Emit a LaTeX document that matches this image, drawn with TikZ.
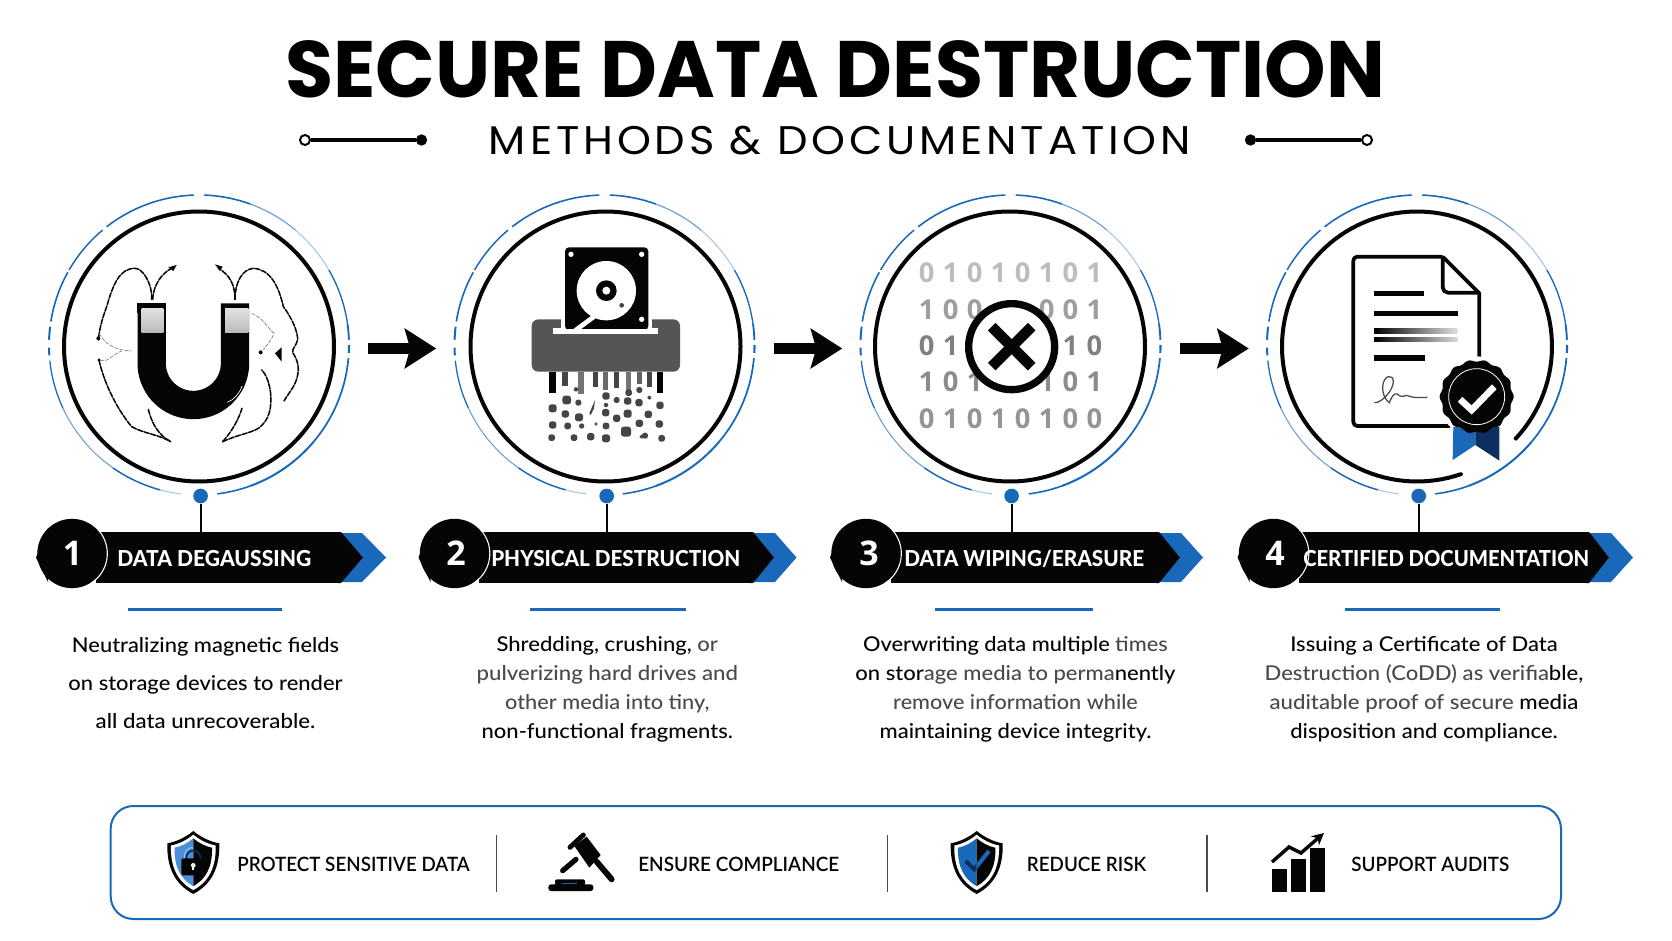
\documentclass[tikz,border=0pt]{standalone}
\usepackage{fontspec}
\usetikzlibrary{calc,arrows.meta}
\setmainfont{Lato Medium}[BoldFont=Lato Bold]
\newfontfamily\titlefont{Poppins Bold}
\newfontfamily\subfont{Poppins}[LetterSpace=9]
\newfontfamily\digitfont{Open Sans}
\newfontfamily\labfont{Lato Heavy}
\newfontfamily\panfont{Lato Semibold}
\newlength\pxu \setlength\pxu{.75pt}
\newcommand\fitw[2]{\resizebox{#1\pxu}{\height}{#2}}
\newcommand\lw[1]{\textcolor{softword}{#1}}
\definecolor{softword}{HTML}{4A4A4A}
\definecolor{accent}{HTML}{1A68BA}
\definecolor{accentlt}{HTML}{4A90D9}
\definecolor{accentdk}{HTML}{0B2F5E}
\definecolor{ringlt}{HTML}{A9C6E8}
\definecolor{ringmd}{HTML}{6EA0D8}
\definecolor{ink}{HTML}{050505}
\definecolor{shred}{HTML}{555555}
\definecolor{frag}{HTML}{454545}
\tikzset{
 innerring/.style={circle,draw=ink,line width=3pt,minimum size=202.5pt,inner sep=0pt},
 anchorring/.style={circle,minimum size=225pt,inner sep=0pt},
 ringdot/.style={circle,fill=accent,minimum size=11pt,inner sep=0pt},
 stemline/.style={draw=ink,line width=1.5pt},
 barbox/.style={fill=ink,minimum height=38.25pt,inner sep=0pt},
 blobnode/.style={circle,fill=ink,minimum size=52pt,inner sep=0pt},
 numtext/.style={text=white,font=\digitfont\bfseries\fontsize{25.5}{26}\selectfont,inner sep=0pt},
 barlabel/.style={text=white,font=\labfont\fontsize{16.5}{18}\selectfont,inner sep=0pt,anchor=west},
 bluebar/.style={draw=accent,line width=2.4pt},
 bodytext/.style={align=center,inner sep=0pt,anchor=base,text=ink},
 bigarrow/.style={draw=ink,line width=8.25pt,-{Stealth[length=23.5pt,width=29.5pt,inset=4pt]}},
 panelbox/.style={draw=accent,line width=1.5pt,rounded corners=17pt,inner sep=0pt},
 paneltext/.style={text=ink,font=\panfont\fontsize{14.8}{16}\selectfont,inner sep=0pt,anchor=west},
 divider/.style={draw=softword,line width=.9pt},
 fulldot/.style={circle,fill=ink,minimum size=8.5pt,inner sep=0pt},
 opendot/.style={circle,draw=ink,fill=white,line width=1.5pt,minimum size=7.5pt,inner sep=0pt},
 ornline/.style={draw=ink,line width=2.3pt},
 fieldline/.style={draw=ink,line width=1.15pt,dash pattern=on 4pt off 1.1pt,line cap=round},
 thinfield/.style={draw=ink!55,line width=.45pt,dash pattern=on 3pt off 1pt},
 digit/.style={font=\digitfont\bfseries\fontsize{20.5}{21}\selectfont,inner sep=0pt},
}
\newcommand\outerring[2]{%
 \foreach \sa/\sb/\sc/\sw in {
  92/128/accent/1.2,130/150/accent/1.1,151/171/accent/1.2,173/178/accent/1.5,181/184/accent/1.5,
  186/205/accent/.95,205/235/ringmd/.8,235/255/accent/1.1,255/263/ringlt/.8,
  277/290/accent/1.2,290/320/accent/1.5,320/355/accent/1.3,357/360/accent/1.6,2/8/accent/1.4,
  8/30/accent/1,30/50/ringlt/.8,50/70/ringmd/.9,70/88/accent/1.2}
 {\draw[draw=\sc,line width=\sw pt] plot[domain=\sa:\sb,samples=24] ({#1+150*cos(\x)},{#2-150*sin(\x)});}}
\def\shieldouter{(0,0) .. controls (-22,18) and (-50,32) .. (-78,37) .. controls (-80,110) and (-55,160) .. (0,189) .. controls (55,160) and (80,110) .. (78,37) .. controls (50,32) and (22,18) .. (0,0) -- cycle}
\def\shieldleft{(0,0) .. controls (-22,18) and (-50,32) .. (-78,37) .. controls (-80,110) and (-55,160) .. (0,189) -- cycle}
\def\shieldright{(0,0) .. controls (22,18) and (50,32) .. (78,37) .. controls (80,110) and (55,160) .. (0,189) -- cycle}
\begin{document}
\begin{tikzpicture}[x=.75pt,y=-.75pt]
\useasboundingbox (0,0) rectangle (1672,941);
\fill[white] (0,0) rectangle (1672,941);
% titles
\node[inner sep=0pt] (title) at (835.3,69.5) {\titlefont\fontsize{60}{64}\selectfont\fitw{1100}{SECURE DATA DESTRUCTION}};
\node[inner sep=0pt] (subtitle) at (840,141) {\subfont\fontsize{30}{32}\selectfont\fitw{702}{METHODS \& DOCUMENTATION}};
\node[opendot] (ol) at (305,140) {};
\node[fulldot] (fl) at (421.5,140) {};
\draw[ornline] (ol) -- (fl);
\node[fulldot] (fr) at (1250.5,140) {};
\node[opendot] (or) at (1367,140) {};
\draw[ornline] (fr) -- (or);
% rings
\node[innerring] (r1) at (199,346.5) {};
\node[innerring] (r2) at (605.5,346.5) {};
\node[innerring] (r3) at (1010,346.5) {};
\node[anchorring,minimum size=202.5pt] (r4) at (1417,346.5) {};
\draw[draw=ink,line width=3pt,line cap=round] plot[domain=-43:289,samples=120] ({1417+135*cos(\x)},{346.5-135*sin(\x)});
\node[anchorring] (o1) at (199,345) {};
\node[anchorring] (o2) at (604.5,345) {};
\node[anchorring] (o3) at (1010.5,345) {};
\node[anchorring] (o4) at (1417,345) {};
\outerring{199}{345}\outerring{604.5}{345}\outerring{1010.5}{345}\outerring{1417}{345}
% arrows
\draw[bigarrow] ($(o1.east)+(19,3.5)$) -- ($(o2.west)+(-18,3.5)$);
\draw[bigarrow] ($(o2.east)+(19,3.5)$) -- ($(o3.west)+(-18,3.5)$);
\draw[bigarrow] ($(o3.east)+(19,3.5)$) -- ($(o4.west)+(-18,3.5)$);
% banners
\foreach \n/\xa/\xb/\xc/\xd/\xe/\xf/\xg/\xh/\xi/\xj/\xk in {
 1/96/341/363/362/386/72/72.5/200.6/117/194/{DATA DEGAUSSING},
 2/479/753/774/775/796.5/454.5/456/606.7/491/249/{PHYSICAL DESTRUCTION},
 3/891/1159/1180/1181/1203/866/869/1011.6/904/240/{DATA WIPING/ERASURE},
 4/1299/1589/1609/1611/1633/1273.5/1275/1418.7/1303/286/{CERTIFIED DOCUMENTATION}}{
 \node[ringdot] (dot\n) at (\xh,496) {};
 \node[barbox,minimum width={(\xb-\xa)*.75pt}] (bar\n) at ({(\xa+\xb)/2},557.5) {};
 \draw[stemline] (dot\n.south) -- (dot\n.south |- bar\n.north);
 \fill[accent] (\xb,533) -- (\xd,533) -- (\xe,557.5) -- (\xd,582) -- (\xb,582) -- (\xc,557.5) -- cycle;
 \fill[ink] ({\xb-3},532) -- (\xb,532) -- (\xc,557.5) -- (\xb,583) -- ({\xb-3},583) -- cycle;
 \fill[ink] ({\xf-36},557.5) -- ({\xf-24},528) -- ({\xf-24},582) -- cycle;
 \node[blobnode,minimum size=52pt] (blob\n) at (\xf,553.5) {};
 \draw[white,line width=.8pt] plot[domain=-58:42,samples=30] ({\xf+35.3*cos(\x)},{553.5-35.3*sin(\x)});
 \node[numtext] (num\n) at (\xg,553) {\n};
 \node[barlabel] (lab\n) at (\xi,558.6) {\fitw{\xj}{\xk}};
}
% blue rules
\draw[bluebar] (127.7,609.3) -- (282,609.3);
\draw[bluebar] (530,609.3) -- (686,609.3);
\draw[bluebar] (935.4,609.3) -- (1093,609.3);
\draw[bluebar] (1344.6,609.3) -- (1499.7,609.3);
% body text
\node[bodytext,font=\fontsize{15.3}{28.5}\selectfont] (txt1) at (205.5,728) {\fitw{267}{Neutralizing magnetic fields}\\\fitw{274}{on storage devices to render}\\\fitw{219.5}{all data unrecoverable.}};
\node[bodytext,font=\fontsize{15.3}{21.75}\selectfont] (txt2) at (607.3,738) {\fitw{221.5}{Shredding, crushing, \lw{or}}\\\fitw{261.4}{\lw{pulverizing hard drives and}}\\\fitw{204.3}{\lw{other media into tiny,}}\\\fitw{251.3}{non-functional fragments.}};
\node[bodytext,font=\fontsize{15.3}{21.75}\selectfont] (txt3) at (1015.5,738) {\fitw{304.6}{Overwriting data multiple \lw{times}}\\\fitw{320.2}{on stor\lw{age media to perma}nently}\\\fitw{244.6}{\lw{remove information while}}\\\fitw{271.7}{maintaining device integrity.}};
\node[bodytext,font=\fontsize{15.3}{21.75}\selectfont] (txt4) at (1424,738) {\fitw{267.4}{Issuing a Certificate of Data}\\\fitw{318.7}{\lw{Destruction (CoDD) as verifia}ble,}\\\fitw{309}{\lw{auditable proof of secure} media}\\\fitw{267.4}{disposition and compliance.}};
% bottom panel
\node[panelbox,minimum width={1450.3*.75pt},minimum height={113*.75pt}] (panel) at (835.85,862.5) {};
\draw[divider] (496.5,835) -- (496.5,892);
\draw[divider] (887.5,835) -- (887.5,892);
\draw[divider] (1207,835) -- (1207,892);
\node[paneltext] (p1) at (237,864) {\fitw{232.4}{PROTECT SENSITIVE DATA}};
\node[paneltext] (p2) at (638,864) {\fitw{201}{ENSURE COMPLIANCE}};
\node[paneltext] (p3) at (1026.7,864) {\fitw{119.3}{REDUCE RISK}};
\node[paneltext] (p4) at (1351,864) {\fitw{158}{SUPPORT AUDITS}};
% magnet
\begin{scope}[shift={(0,170)},x=.25pt,y=-.25pt]
 \draw[ink,line width=21.25pt] (455,400) -- plot[domain=180:0,samples=50] ({580+125*cos(\x)},{580+125*sin(\x)}) -- (705,400);
 \fill[ink] (412,400) rectangle (498,430);
 \shade[top color=white!88!black,bottom color=black!27] (425,416) rectangle (490,488);
 \shade[top color=white!88!black,bottom color=black!27] (675,416) rectangle (745,488);
 \draw[white,line width=.5pt] (682,697) .. controls (700,690) and (718,672) .. (726,648);
 \draw[fieldline] (455,388) .. controls (458,345) and (430,295) .. (405,295) .. controls (360,295) and (340,340) .. (320,410) .. controls (305,450) and (298,480) .. (295,510);
 \draw[fieldline] (458,388) .. controls (460,345) and (485,310) .. (515,295);
 \draw[fieldline] (705,388) .. controls (705,345) and (690,315) .. (655,295);
 \draw[fieldline] (705,388) .. controls (705,340) and (725,298) .. (760,295) .. controls (810,298) and (835,345) .. (850,410) .. controls (865,430) and (890,470) .. (893,505) .. controls (890,530) and (875,535) .. (878,548) .. controls (890,565) and (900,590) .. (892,620) .. controls (885,650) and (865,670) .. (852,693);
 \draw[fieldline] (297,570) .. controls (310,630) and (345,710) .. (395,770) .. controls (430,790) and (480,795) .. (512,815);
 \draw[fieldline] (445,718) .. controls (455,760) and (475,795) .. (512,815);
 \draw[fieldline] (668,815) .. controls (695,785) and (715,750) .. (726,715);
 \draw[fieldline] (668,815) .. controls (710,795) and (750,790) .. (775,775) .. controls (810,750) and (815,710) .. (812,670) .. controls (808,640) and (800,615) .. (785,600);
 \draw[thinfield] (297,490) .. controls (315,520) and (340,540) .. (395,543);
 \draw[thinfield] (300,570) .. controls (320,580) and (335,555) .. (365,543);
 \draw[thinfield] (755,430) .. controls (790,445) and (800,470) .. (822,490) .. controls (815,510) and (800,525) .. (790,540);
 \fill[ink] (505,292) -- (530,285) -- (520,303) -- cycle;
 \fill[ink] (645,283) -- (668,290) -- (660,303) -- cycle;
 \fill[ink] (782,547) circle[radius=6];
 \fill[ink] (825,550) -- (845,532) -- (845,575) -- cycle;
 \fill[ink] (295,505) circle[radius=6];
 \fill[ink] (297,570) circle[radius=5];
\end{scope}
% shredder
\begin{scope}[shift={(440,170)},x=.25pt,y=-.25pt]
 \fill[shred,rounded corners=5pt] (275,448) rectangle (720,605);
 \fill[white] (362,440) rectangle (637,490);
 \fill[white] (340,475) rectangle (655,491);
 \fill[ink,rounded corners=3pt] (375,232) -- (625,232) -- (625,480) -- (375,480) -- cycle;
 \fill[white] (393,253) circle[radius=8];
 \fill[white] (605,253) circle[radius=8];
 \fill[white] (605,448) circle[radius=8];
 \fill[white] (499,362) circle[radius=89];
 \fill[ink] (499,362) circle[radius=31];
 \fill[white] (499,362) circle[radius=12];
 \fill[frag] (545,406) circle[radius=7];
 \draw[white,line width=3.5pt] (405,482) -- (462,440);
 \fill[white] (340,478) rectangle (655,491);
 \foreach \sa/\sb/\sc/\sd in {327/348/670/ink,367/385/648/frag,415/432/672/frag!75,458/473/652/frag,490/505/660/frag!80,522/538/655/frag,558/574/672/frag!75,590/605/642/frag!85,620/637/652/frag,652/670/668/ink}
  {\fill[\sd] (\sa,605) rectangle (\sb,\sc);}
 \foreach \fx/\fy/\fr in {380/690/13,415/698/9,498/678/11,530/690/9,563/693/11,597/698/11,628/683/6,408/658/7,566/668/10,598/660/9,
  338/715/12,376/732/11,417/742/12,497/728/11,530/745/11,563/731/12,625/733/11,660/706/11,498/705/7,
  338/765/11,383/768/10,425/768/8,498/768/10,598/760/11,658/762/11,468/762/4,558/785/15,
  335/803/10,402/803/10,452/800/11,498/805/12,615/797/9,665/805/10,605/800/6}
  {\fill[frag,rounded corners=2pt] ({\fx-\fr},{\fy-\fr}) rectangle ({\fx+\fr},{\fy+\fr});}
 \fill[frag] (448,730) -- (465,690) -- (462,715) -- (452,735) -- cycle;
\end{scope}
% binary block
\begin{scope}[shift={(850,170)},x=.25pt,y=-.25pt]
 \foreach \cx/\cd in {230/0,302/1,374/0,446/1,518/0,590/1,661/0,733/1} {\node[digit,text=black!26] (da\cx) at (\cx,308) {\cd};}
 \foreach \cx/\cd in {230/1,302/0,374/0,590/0,661/0,733/1} {\node[digit,text=black!38] (db\cx) at (\cx,418) {\cd};}
 \foreach \cx/\cd in {230/0,302/1,661/1,733/0} {\node[digit,text=black!50] (dc\cx) at (\cx,528) {\cd};}
 \foreach \cx/\cd in {230/1,302/0,374/1,590/1,661/0,733/1} {\node[digit,text=black!45] (dd\cx) at (\cx,636) {\cd};}
 \foreach \cx/\cd in {230/0,302/1,374/0,446/1,518/0,590/1,661/0,733/0} {\node[digit,text=black!42] (de\cx) at (\cx,746) {\cd};}
 \draw[ink,fill=white,line width=5.5pt] (485,530) circle[radius=129];
 \draw[ink,line width=8pt] (425,470) -- (545,590);
 \draw[ink,line width=8pt] (545,470) -- (425,590);
\end{scope}
% certificate
\begin{scope}[shift={(1250,170)},x=.25pt,y=-.25pt]
 \draw[ink,line width=2.8pt,line join=round,rounded corners=3pt] (600,768) -- (310,768) -- (310,260) -- (578,260);
 \draw[ink,line width=2.8pt,line join=round] (578,260) -- (688,370) -- (688,560);
 \draw[ink,line width=2.8pt,rounded corners=4pt] (578,260) -- (578,368) -- (688,368);
 \draw[ink,line width=4pt] (372,371) -- (523,371);
 \draw[ink,line width=4pt] (372,430) -- (623,430);
 \shade[left color=black,right color=black!12] (372,477) rectangle (622,491);
 \shade[left color=black,right color=black!15] (372,502) rectangle (622,516);
 \draw[ink,line width=4pt] (372,564) -- (525,564);
 \draw[softword,line width=.95pt] (373,698) .. controls (395,700) and (430,660) .. (430,635) .. controls (430,610) and (400,615) .. (398,650) .. controls (397,670) and (405,690) .. (418,698) .. controls (425,680) and (432,668) .. (442,672) .. controls (450,682) and (458,680) .. (470,676) .. controls (490,685) and (510,683) .. (532,682);
 \fill[white] (680,680) circle[radius=120];
 \fill[accent] (610,770) -- (676,780) -- (676,825) -- (608,870) -- cycle;
 \fill[accentdk] (676,780) -- (748,770) -- (748,872) -- (676,825) -- cycle;
 \fill[ink] plot[domain=0:360,samples=180] ({680+(108+3*cos(14*\x))*cos(\x)},{680+(108+3*cos(14*\x))*sin(\x)}) -- cycle;
 \draw[white,line width=.6pt] (680,680) circle[radius=84];
 \draw[white,line width=5pt] (630,688) -- (665,720) -- (733,650);
\end{scope}
% panel icon: lock shield
\begin{scope}[shift={(193.3,831)},x=.25pt,y=-.25pt]
 \fill[ink] \shieldouter;
 \begin{scope}[shift={(0,11)},xscale=.86,yscale=.88]\fill[white] \shieldouter;\end{scope}
 \begin{scope}[shift={(0,22)},xscale=.72,yscale=.76]
  \fill[accentlt] \shieldleft;\fill[ink] \shieldright;
 \end{scope}
 \draw[accentdk,line width=1.4pt] (-22,85) .. controls (-22,50) and (22,50) .. (22,85);
 \draw[ringlt,line width=.7pt] (-27,85) .. controls (-27,45) and (0,48) .. (0,52);
 \fill[ink,rounded corners=1.5pt] (-36,82) rectangle (36,133);
 \fill[white] (0,103) circle[radius=7];
 \fill[white] (-3,105) rectangle (3,117);
\end{scope}
% panel icon: gavel
\begin{scope}[shift={(540,825)},x=.25pt,y=-.25pt]
 \draw[ink,line width=3.7pt,line cap=round] (90,67) -- (130,30);
 \draw[ink,line width=3.9pt,line cap=round] (68,137) -- (108,103);
 \fill[ink] (103,63) -- (140,35) -- (182,90) -- (148,128) -- cycle;
 \draw[ink,line width=4.4pt,line cap=round] (170,110) -- (215,163);
 \fill[ink,rounded corners=1.5pt] (45,163) rectangle (135,182);
 \fill[ink,rounded corners=2pt] (25,178) rectangle (160,198);
 \draw[accent,line width=.9pt] (65,175) -- (110,175);
\end{scope}
% panel icon: check shield
\begin{scope}[shift={(976.7,831)},x=.25pt,y=-.25pt]
 \fill[ink] \shieldouter;
 \begin{scope}[shift={(0,11)},xscale=.86,yscale=.88]\fill[white] \shieldouter;\end{scope}
 \begin{scope}[shift={(0,22)},xscale=.72,yscale=.76]
  \fill[accent] \shieldleft;\fill[ink] \shieldright;
 \end{scope}
 \begin{scope}\clip (-60,0) rectangle (0,180);\draw[accentdk,line width=3pt] (-33,90) -- (-7,115) -- (37,60);\end{scope}
 \begin{scope}\clip (0,0) rectangle (60,180);\draw[accent,line width=3pt] (-33,90) -- (-7,115) -- (37,60);\end{scope}
\end{scope}
% panel icon: chart
\fill[ink] (1272,869) rectangle (1287,892);
\fill[ink] (1291,859) rectangle (1305.5,892);
\fill[ink] (1310,848) rectangle (1324.6,892);
\draw[ink,line width=2.6pt,-{Stealth[length=9pt,width=9pt]}] (1272,862) -- (1289,847) -- (1301,853) -- (1324,833);
\end{tikzpicture}
\end{document}
